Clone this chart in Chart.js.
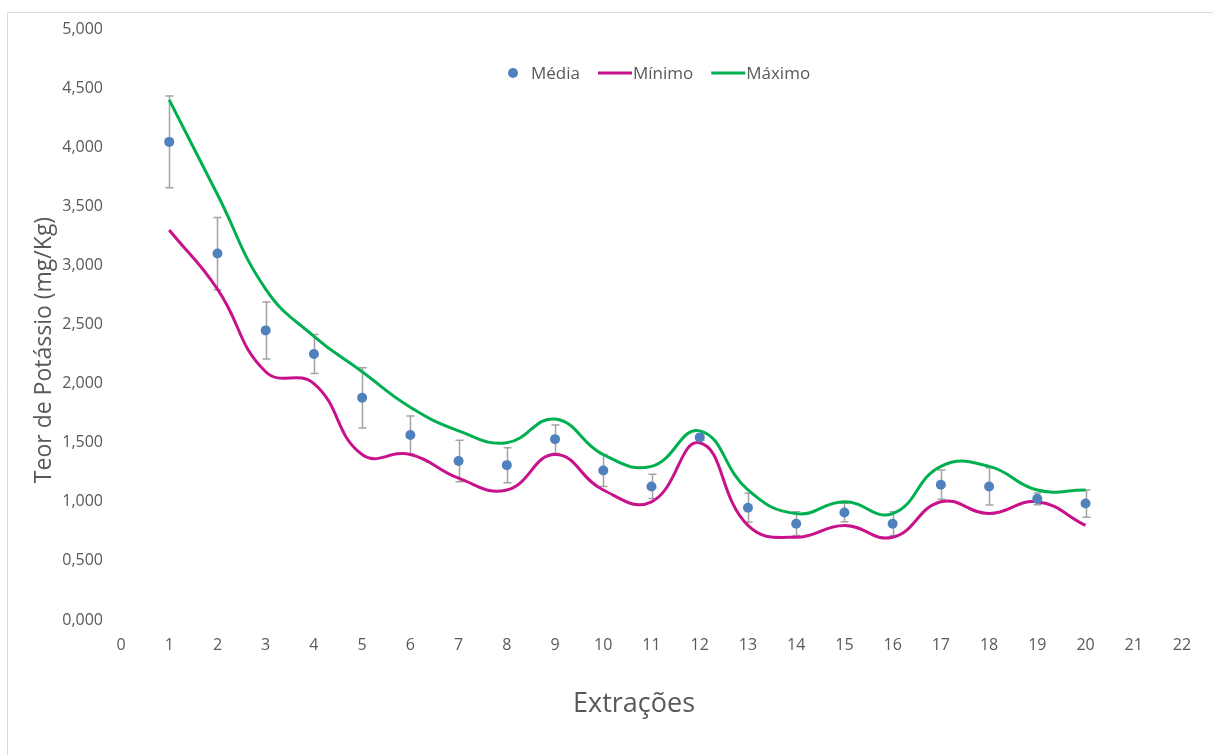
<!DOCTYPE html>
<html>
<head>
<meta charset="utf-8">
<script src="https://cdn.jsdelivr.net/npm/chart.js@4.4.1/dist/chart.umd.min.js"></script>
<style>
  html, body { margin: 0; padding: 0; background: #ffffff; }
  #wrap { position: relative; width: 1213px; height: 755px; }
</style>
</head>
<body>
<div id="wrap"><canvas id="c" width="1213" height="755"></canvas></div>
<script>
// ---- data ----
const extracoes = [1, 2, 3, 4, 5, 6, 7, 8, 9, 10, 11, 12, 13, 14, 15, 16, 17, 18, 19, 20];
const media  = [4045, 3100, 2450, 2250, 1880, 1565, 1345, 1310, 1530, 1265, 1130, 1545, 950, 815, 910, 815, 1145, 1130, 1025, 985];
const erro   = [388, 305, 241, 165, 255, 160, 175, 148, 120, 135, 103, 25, 123, 100, 78, 100, 123, 158, 50, 115];
const minimo = [3300, 2800, 2100, 2000, 1400, 1400, 1200, 1100, 1400, 1100, 1000, 1500, 800, 700, 800, 700, 1000, 900, 1000, 800];
const maximo = [4400, 3600, 2800, 2400, 2100, 1800, 1600, 1500, 1700, 1400, 1300, 1600, 1100, 900, 1000, 900, 1300, 1300, 1100, 1100];
const yTickLabels = ['0,000', '0,500', '1,000', '1,500', '2,000', '2,500', '3,000', '3,500', '4,000', '4,500', '5,000'];
const seriesNames = ['Média', 'Mínimo', 'Máximo'];
const xTitle = 'Extrações';
const yTitle = 'Teor de Potássio (mg/Kg)';

const COL_MEDIA = '#4f81bd';
const COL_MIN = '#c8128c';
const COL_MAX = '#00b050';
const TXT = '#595959';
const FONT = '"Open Sans", "Noto Sans", sans-serif';

const toXY = (arr) => extracoes.map((x, i) => ({ x: x, y: arr[i] }));

const framePlugin = {
  id: 'frame',
  beforeDraw(chart) {
    const ctx = chart.ctx;
    ctx.save();
    ctx.fillStyle = '#ffffff';
    ctx.fillRect(0, 0, chart.width, chart.height);
    ctx.strokeStyle = '#d9d9d9';
    ctx.lineWidth = 1;
    ctx.beginPath();
    ctx.moveTo(7.5, chart.height + 5);
    ctx.lineTo(7.5, 12.5);
    ctx.lineTo(chart.width + 5, 12.5);
    ctx.stroke();
    ctx.restore();
  }
};

const errorBarsPlugin = {
  id: 'errorBars',
  beforeDatasetsDraw(chart) {
    const { ctx, scales: { x, y } } = chart;
    ctx.save();
    ctx.strokeStyle = '#a3a3a3';
    ctx.lineWidth = 1.5;
    extracoes.forEach((v, i) => {
      const px = Math.round(x.getPixelForValue(v)) + 0.5;
      const top = y.getPixelForValue(media[i] + erro[i]);
      const bot = y.getPixelForValue(media[i] - erro[i]);
      ctx.beginPath();
      ctx.moveTo(px, top); ctx.lineTo(px, bot);
      ctx.moveTo(px - 4, top); ctx.lineTo(px + 4, top);
      ctx.moveTo(px - 4, bot); ctx.lineTo(px + 4, bot);
      ctx.stroke();
    });
    ctx.restore();
  }
};

const titlesLegendPlugin = {
  id: 'titlesLegend',
  afterDraw(chart) {
    const ctx = chart.ctx;
    const ds = chart.data.datasets;
    ctx.save();
    // axis titles
    ctx.fillStyle = TXT;
    ctx.textAlign = 'center';
    ctx.textBaseline = 'middle';
    ctx.font = '27px ' + FONT;
    ctx.fillText(xTitle, 634, 704);
    ctx.save();
    ctx.translate(44, 350);
    ctx.rotate(-Math.PI / 2);
    ctx.font = '23px ' + FONT;
    ctx.fillText(yTitle, 0, 0);
    ctx.restore();

    // legend
    ctx.font = '17px ' + FONT;
    ctx.textAlign = 'left';
    const ly = 73;
    let lx = 508;
    // Média (point)
    ctx.fillStyle = ds[0].backgroundColor;
    ctx.beginPath();
    ctx.arc(lx + 5, ly, 5, 0, Math.PI * 2);
    ctx.fill();
    lx += 23;
    ctx.fillStyle = TXT;
    ctx.fillText(ds[0].label, lx, ly + 1);
    lx += ctx.measureText(ds[0].label).width + 18;
    for (let k = 1; k < 3; k++) {
      ctx.strokeStyle = ds[k].borderColor;
      ctx.lineWidth = 3;
      ctx.beginPath();
      ctx.moveTo(lx, ly); ctx.lineTo(lx + 34, ly);
      ctx.stroke();
      lx += 35;
      ctx.fillStyle = TXT;
      ctx.fillText(ds[k].label, lx, ly + 1);
      lx += ctx.measureText(ds[k].label).width + 18;
    }
    ctx.restore();
  }
};

new Chart(document.getElementById('c'), {
  type: 'scatter',
  data: {
    datasets: [
      {
        label: seriesNames[0],
        data: toXY(media),
        backgroundColor: COL_MEDIA,
        borderColor: COL_MEDIA,
        pointRadius: 5,
        pointHoverRadius: 5,
        borderWidth: 0,
        showLine: false
      },
      {
        label: seriesNames[1],
        data: toXY(minimo),
        borderColor: COL_MIN,
        backgroundColor: COL_MIN,
        borderWidth: 3,
        pointRadius: 0,
        showLine: true,
        tension: 0.45
      },
      {
        label: seriesNames[2],
        data: toXY(maximo),
        borderColor: COL_MAX,
        backgroundColor: COL_MAX,
        borderWidth: 3,
        pointRadius: 0,
        showLine: true,
        tension: 0.45
      }
    ]
  },
  options: {
    responsive: false,
    animation: false,
    devicePixelRatio: 1,
    layout: { padding: { left: 0, top: 29, right: 31, bottom: 0 } },
    plugins: {
      legend: { display: false },
      tooltip: { enabled: false },
      title: { display: false }
    },
    scales: {
      x: {
        type: 'linear',
        min: 0,
        max: 22,
        grid: { display: false, drawTicks: false },
        border: { display: false },
        ticks: {
          stepSize: 1,
          padding: 16,
          color: TXT,
          font: { family: FONT, size: 16 },
          maxRotation: 0,
          autoSkip: false
        },
        afterFit(scale) { scale.height = 135; }
      },
      y: {
        type: 'linear',
        min: 0,
        max: 5000,
        grid: { display: false, drawTicks: false },
        border: { display: false },
        ticks: {
          stepSize: 500,
          padding: 18,
          color: TXT,
          font: { family: FONT, size: 16 },
          callback: (v) => yTickLabels[Math.round(v / 500)]
        },
        afterFit(scale) { scale.width = 121; }
      }
    }
  },
  plugins: [framePlugin, errorBarsPlugin, titlesLegendPlugin]
});
</script>
</body>
</html>
